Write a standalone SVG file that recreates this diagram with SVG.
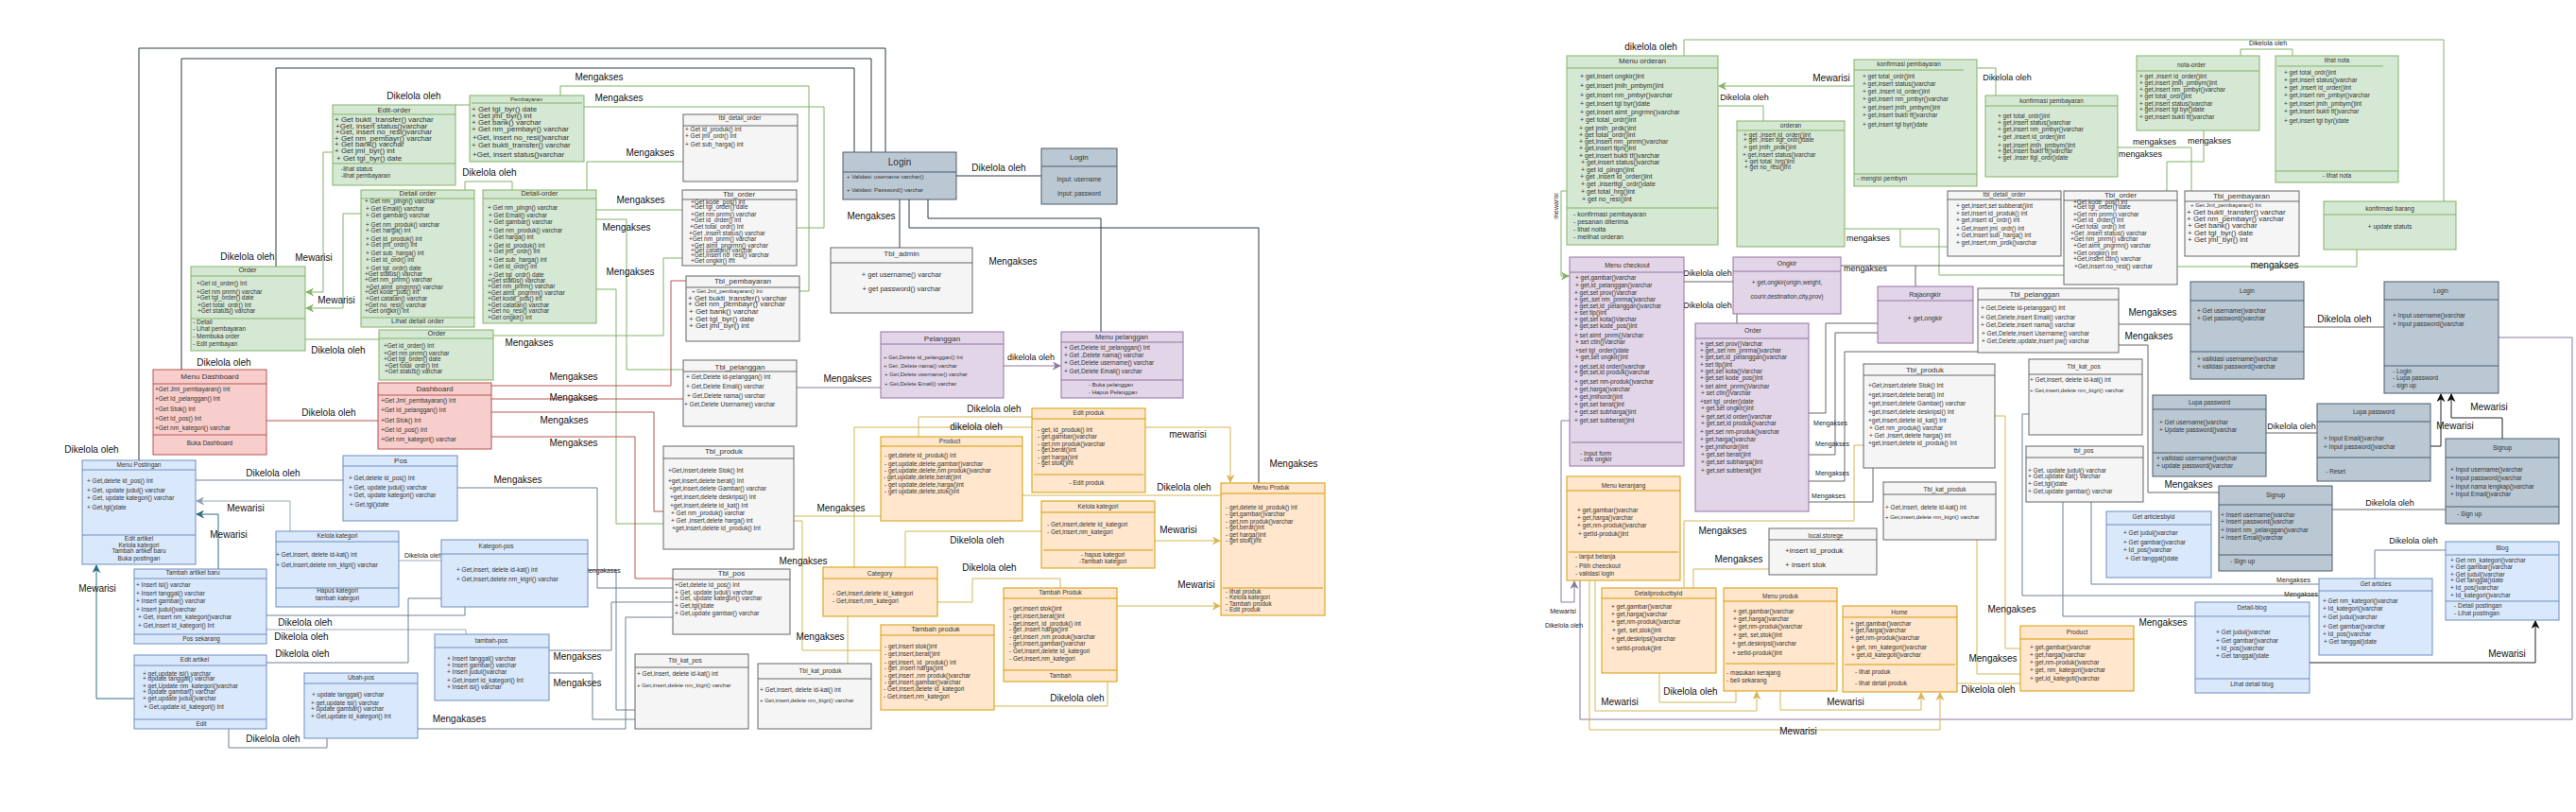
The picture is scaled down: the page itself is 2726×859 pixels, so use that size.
<svg xmlns="http://www.w3.org/2000/svg" width="2726" height="859" viewBox="0 0 2726 859">
<style>
text{font-family:"Liberation Sans",Arial,sans-serif;fill:#333}
.s6{font-size:6px}.s65{font-size:6.5px}.s7{font-size:7px}.s75{font-size:7.5px}.s8{font-size:8px}.s9{font-size:9px}.s10{font-size:10px}
.m{text-anchor:middle}
.L{font-size:10px;fill:#111;text-anchor:middle}
.L9{font-size:9px;fill:#111;text-anchor:middle}
.L7{font-size:7px;fill:#222;text-anchor:middle}
.g{fill:#d5e8d4;stroke:#82b366}.r{fill:#f8cecc;stroke:#b85450}.y{fill:#f5f5f5;stroke:#666}.k{fill:#bac8d3;stroke:#4d5d6b}.p{fill:#e1d5e7;stroke:#9673a6}.b{fill:#dae8fc;stroke:#6c8ebf}.o{fill:#ffe6cc;stroke:#d79b00}
.sg{stroke:#82b366}.sr{stroke:#b85450}.sy{stroke:#666}.sk{stroke:#4d5d6b}.sp{stroke:#9673a6}.sb{stroke:#6c8ebf}.so{stroke:#d79b00}
.c{fill:none;stroke-width:1}
.cn{stroke:#2b3a46}.cg{stroke:#82b366}.cr{stroke:#b85450}.cs{stroke:#6f8192}.ct{stroke:#2d6e80}.co{stroke:#d6b656}.cp{stroke:#8a7a9e}.cy{stroke:#666}.ck{stroke:#222}.cl{stroke:#9aaab8}
</style>
<defs>
<marker id="ag" viewBox="0 0 10 10" refX="9" refY="5" markerWidth="9" markerHeight="9" orient="auto" markerUnits="userSpaceOnUse"><path d="M0 0L10 5L0 10L3 5z" fill="#82b366"/></marker>
<marker id="ao" viewBox="0 0 10 10" refX="9" refY="5" markerWidth="9" markerHeight="9" orient="auto" markerUnits="userSpaceOnUse"><path d="M0 0L10 5L0 10L3 5z" fill="#d6b656"/></marker>
<marker id="ap" viewBox="0 0 10 10" refX="9" refY="5" markerWidth="9" markerHeight="9" orient="auto" markerUnits="userSpaceOnUse"><path d="M0 0L10 5L0 10L3 5z" fill="#8a7a9e"/></marker>
<marker id="ak" viewBox="0 0 10 10" refX="9" refY="5" markerWidth="9" markerHeight="9" orient="auto" markerUnits="userSpaceOnUse"><path d="M0 0L10 5L0 10L3 5z" fill="#111"/></marker>
<marker id="at" viewBox="0 0 10 10" refX="9" refY="5" markerWidth="9" markerHeight="9" orient="auto" markerUnits="userSpaceOnUse"><path d="M0 0L10 5L0 10L3 5z" fill="#2d6e80"/></marker>
<marker id="as" viewBox="0 0 10 10" refX="9" refY="5" markerWidth="9" markerHeight="9" orient="auto" markerUnits="userSpaceOnUse"><path d="M0 0L10 5L0 10L3 5z" fill="#8aa0b4"/></marker>
</defs>
<rect width="2726" height="859" fill="#fff"/>

<g id="connectors">
<!-- left: navy -->
<polyline class="c cn" points="147,487 147,51 937,51 937,161"/>
<polyline class="c cn" points="192,391 192,62 922,62 922,161"/>
<polyline class="c cn" points="292,282 292,72 904,72 904,161"/>
<polyline class="c cn" points="952,211 952,262"/>
<polyline class="c cn" points="962,211 962,241 1332,241 1332,511"/>
<polyline class="c cn" points="982,211 982,231 1165,231 1165,351"/>
<polyline class="c cn" points="1012,186 1102,186"/>
<!-- left: green -->
<polyline class="c cg" points="482,111 497,111"/>
<polyline class="c cg" points="352,161 342,161 342,309 324,309" marker-end="url(#ag)"/>
<polyline class="c cg" points="382,226 363,226 363,326 324,326" marker-end="url(#ag)"/>
<polyline class="c cg" points="492,201 492,192 542,192 542,201"/>
<polyline class="c cg" points="323,359 401,359"/>
<polyline class="c cg" points="593,101 593,91 856,91 856,308 846,308"/>
<polyline class="c cg" points="618,113 872,113 872,241 843,241"/>
<polyline class="c cg" points="621,201 621,171 723,171"/>
<polyline class="c cg" points="631,222 722,222"/>
<polyline class="c cg" points="631,232 663,232 663,391 723,391"/>
<polyline class="c cg" points="631,306 652,306 652,554 702,554"/>
<polyline class="c cg" points="522,355 702,355 702,273 722,273"/>
<!-- left: red -->
<polyline class="c cr" points="282,445 400,445"/>
<polyline class="c cr" points="520,408 710,408 710,297 726,297"/>
<polyline class="c cr" points="520,422 723,422"/>
<polyline class="c cr" points="520,436 692,436 692,541 702,541"/>
<polyline class="c cr" points="520,462 672,462 672,612 712,612"/>
<!-- left: slate -->
<polyline class="c cs" points="207,508 363,508"/>
<polyline class="c cs" points="484,516 632,516 632,622 712,622"/>
<polyline class="c cl" points="307,562 307,530 208,530" marker-end="url(#as)"/>
<polyline class="c ct" points="231,602 231,544 208,544" marker-end="url(#at)"/>
<polyline class="c ct" points="142,739 102,739 102,598" marker-end="url(#at)"/>
<polyline class="c cl" points="422,593 467,593"/>
<polyline class="c cs" points="622,603 652,603 652,751 672,751"/>
<polyline class="c cl" points="282,666 493,666 493,671"/>
<polyline class="c cs" points="282,651 492,651 492,642"/>
<polyline class="c cs" points="282,701 432,701 432,633 467,633"/>
<polyline class="c cs" points="581,688 647,688 647,637 712,637"/>
<polyline class="c cs" points="581,712 627,712 627,761 672,761"/>
<polyline class="c cs" points="242,771 242,791 346,791 346,781"/>
<polyline class="c cs" points="442,771 662,771 662,653 712,653"/>
<!-- left: gold -->
<polyline class="c co" points="972,462 972,441 1092,441"/>
<polyline class="c co" points="904,600 904,452 1092,452"/>
<polyline class="c co" points="1212,452 1302,452 1302,510" marker-end="url(#ao)"/>
<polyline class="c co" points="1082,524 1292,524"/>
<polyline class="c co" points="1222,572 1291,572" marker-end="url(#ao)"/>
<polyline class="c co" points="1182,641 1291,641" marker-end="url(#ao)"/>
<polyline class="c co" points="958,600 958,562 1102,562"/>
<polyline class="c co" points="992,637 1029,637 1029,612 1122,612 1122,622"/>
<polyline class="c co" points="1052,747 1172,747 1172,721"/>
<polyline class="c co" points="840,546 932,546"/>
<polyline class="c co" points="840,551 849,551 849,688 932,688"/>
<polyline class="c co" points="897,702 897,652"/>
<!-- left: purple -->
<polyline class="c cp" points="843,410 932,410"/>
<polyline class="c cp" points="1062,387 1122,387" marker-end="url(#ap)"/>

<!-- right: green -->
<polyline class="c cg" points="1782,59 1782,42 2586,42 2586,213"/>
<polyline class="c cg" points="2371,59 2371,52 2426,52 2426,59"/>
<polyline class="c cg" points="1866,128 1866,112 1818,112"/>
<polyline class="c cg" points="1962,91 1819,91" marker-end="url(#ag)"/>
<polyline class="c cg" points="2092,72 2112,72 2112,101"/>
<polyline class="c cg" points="1658,202 1652,202 1652,292 1660,292" marker-end="url(#ag)"/>
<polyline class="c cg" points="2494,264 2494,282 2304,282"/>
<polyline class="c cg" points="2241,156 2319,156 2319,202"/>
<polyline class="c cg" points="2332,138 2332,171 2293,171 2293,202"/>
<polyline class="c cg" points="1952,242 2052,242 2052,291 2184,291"/>
<polyline class="c cg" points="2011,242 2011,261 2061,261"/>
<!-- right: grey -->
<polyline class="c cy" points="1948,281 2184,281"/>
<polyline class="c cy" points="2027,281 2027,303"/>
<polyline class="c cy" points="1782,298 1834,298"/>
<polyline class="c cy" points="1838,332 1838,342"/>
<polyline class="c cy" points="1914,437 1932,437 1932,342 1987,342"/>
<polyline class="c cy" points="1914,481 1942,481 1942,352 1987,352"/>
<polyline class="c cy" points="1914,509 1952,509 1952,372 2093,372"/>
<polyline class="c cy" points="1914,531 1982,531 1982,495"/>
<polyline class="c cy" points="2242,343 2318,343"/>
<polyline class="c cy" points="2242,365 2273,365 2273,521 2348,521"/>
<polyline class="c cy" points="2438,346 2523,346"/>
<polyline class="c cp" points="2644,357 2722,357 2722,761 1672,761 1672,614"/>
<polyline class="c cy" points="2398,458 2452,458"/>
<polyline class="c ck" points="2572,472 2583,472 2583,417" marker-end="url(#ak)"/>
<polyline class="c ck" points="2648,464 2648,442 2594,442 2594,417" marker-end="url(#ak)"/>
<polyline class="c cy" points="2468,539 2588,539"/>
<polyline class="c cs" points="2147,438 2140,438 2140,630 2454,630"/>
<polyline class="c cs" points="2213,531 2213,618 2454,618"/>
<polyline class="c cs" points="2183,531 2183,652 2323,652"/>
<polyline class="c cs" points="2513,612 2513,582 2588,582"/>
<polyline class="c ck" points="2444,701 2683,701 2683,657" marker-end="url(#ak)"/>
<!-- right: purple -->
<polyline class="c cp" points="1661,445 1652,445 1652,637 1666,637 1666,615" marker-end="url(#ap)"/>
<!-- right: orange -->
<polyline class="c co" points="1782,622 1782,551 1962,551 1962,471 1972,471"/>
<polyline class="c co" points="1792,622 1792,602 1872,602"/>
<polyline class="c co" points="1688,614 1688,752 1859,752 1859,732" marker-end="url(#ao)"/>
<polyline class="c co" points="1682,614 1682,772 2053,772 2053,733" marker-end="url(#ao)"/>
<polyline class="c co" points="1756,712 1756,743 1837,743 1837,731"/>
<polyline class="c co" points="1884,731 1884,751 2033,751 2033,733" marker-end="url(#ao)"/>
<polyline class="c co" points="2071,723 2138,723"/>
<polyline class="c co" points="2111,440 2122,440 2122,686 2138,686"/>
<polyline class="c co" points="2092,571 2092,713 2138,713"/>
</g>

<g id="labels">
<text class="L" x="438" y="105">Dikelola oleh</text>
<text class="L" x="518" y="186">Dikelola oleh</text>
<text class="L" x="262" y="275">Dikelola oleh</text>
<text class="L" x="332" y="276">Mewarisi</text>
<text class="L" x="356" y="321">Mewarisi</text>
<text class="L" x="358" y="374">Dikelola oleh</text>
<text class="L" x="237" y="387">Dikelola oleh</text>
<text class="L" x="348" y="440">Dikelola oleh</text>
<text class="L" x="634" y="85">Mengakses</text>
<text class="L" x="655" y="107">Mengakses</text>
<text class="L" x="688" y="165">Mengakses</text>
<text class="L" x="678" y="215">Mengakses</text>
<text class="L" x="663" y="244">Mengakses</text>
<text class="L" x="667" y="291">Mengakses</text>
<text class="L" x="560" y="366">Mengakses</text>
<text class="L" x="607" y="402">Mengakses</text>
<text class="L" x="607" y="424">Mengakses</text>
<text class="L" x="597" y="448">Mengakses</text>
<text class="L" x="607" y="472">Mengakses</text>
<text class="L" x="922" y="232">Mengakses</text>
<text class="L" x="1057" y="181">Dikelola oleh</text>
<text class="L" x="1072" y="280">Mengakses</text>
<text class="L" x="897" y="404">Mengakses</text>
<text class="L9" x="1091" y="381">dikelola oleh</text>
<text class="L" x="97" y="479">Dikelola oleh</text>
<text class="L" x="289" y="504">Dikelola oleh</text>
<text class="L" x="548" y="511">Mengakses</text>
<text class="L" x="260" y="541">Mewarisi</text>
<text class="L" x="242" y="569">Mewarisi</text>
<text class="L" x="103" y="626">Mewarisi</text>
<text class="L7" x="448" y="590">Dikelola oleh</text>
<text class="L7" x="637" y="606">Mengakases</text>
<text class="L" x="323" y="662">Dikelola oleh</text>
<text class="L" x="319" y="677">Dikelola oleh</text>
<text class="L" x="320" y="695">Dikelola oleh</text>
<text class="L" x="289" y="785">Dikelola oleh</text>
<text class="L" x="486" y="764">Mengakases</text>
<text class="L" x="611" y="698">Mengakses</text>
<text class="L" x="611" y="726">Mengakses</text>
<text class="L" x="890" y="541">Mengakses</text>
<text class="L" x="850" y="597">Mengakses</text>
<text class="L" x="868" y="677">Mengakses</text>
<text class="L" x="1052" y="436">Dikelola oleh</text>
<text class="L" x="1033" y="455">dikelola oleh</text>
<text class="L" x="1257" y="463">mewarisi</text>
<text class="L" x="1253" y="519">Dikelola oleh</text>
<text class="L" x="1369" y="494">Mengakses</text>
<text class="L" x="1034" y="575">Dikelola oleh</text>
<text class="L" x="1247" y="564">Mewarisi</text>
<text class="L" x="1047" y="604">Dikelola oleh</text>
<text class="L" x="1266" y="622">Mewarisi</text>
<text class="L" x="1140" y="742">Dikelola oleh</text>

<text class="L" x="1747" y="53">dikelola oleh</text>
<text class="L" x="1938" y="86">Mewarisi</text>
<text class="L9" x="1846" y="106">Dikelola oleh</text>
<text class="L9" x="2124" y="85">Dikelola oleh</text>
<text class="L7" x="2400" y="48">Dikelola oleh</text>
<text class="L7" x="1649" y="218" transform="rotate(-90 1649 218)">mewarisi</text>
<text class="L9" x="2280" y="153">mengakses</text>
<text class="L9" x="2338" y="152">mengakses</text>
<text class="L9" x="2265" y="166">mengakses</text>
<text class="L9" x="1977" y="255">mengakses</text>
<text class="L9" x="1974" y="287">mengakses</text>
<text class="L" x="2407" y="284">mengakses</text>
<text class="L9" x="1807" y="292">Dikelola oleh</text>
<text class="L9" x="1807" y="326">Dikelola oleh</text>
<text class="L" x="2278" y="334">Mengakses</text>
<text class="L" x="2274" y="359">Mengakses</text>
<text class="L" x="2481" y="341">Dikelola oleh</text>
<text class="L9" x="2425" y="454">Dikelola oleh</text>
<text class="L" x="2598" y="454">Mewarisi</text>
<text class="L" x="2634" y="434">Mewarisi</text>
<text class="L9" x="2529" y="535">Dikelola oleh</text>
<text class="L9" x="2554" y="575">Dikelola oleh</text>
<text class="L" x="2316" y="516">Mengakses</text>
<text class="L7" x="2427" y="616">Mengakses</text>
<text class="L7" x="2435" y="631">Mengakses</text>
<text class="L" x="2653" y="695">Mewarisi</text>
<text class="L" x="2289" y="662">Mengakses</text>
<text class="L" x="2129" y="648">Mengakses</text>
<text class="L" x="2109" y="700">Mengakses</text>
<text class="L" x="2104" y="733">Dikelola oleh</text>
<text class="L7" x="1937" y="450">Mengakses</text>
<text class="L7" x="1939" y="472">Mengakses</text>
<text class="L7" x="1939" y="503">Mengakses</text>
<text class="L7" x="1935" y="527">Mengakses</text>
<text class="L" x="1823" y="565">Mengakses</text>
<text class="L" x="1840" y="595">Mengakses</text>
<text class="L7" x="1654" y="649">Mewarisi</text>
<text class="L7" x="1655" y="664">Dikelola oleh</text>
<text class="L" x="1789" y="735">Dikelola oleh</text>
<text class="L" x="1714" y="746">Mewarisi</text>
<text class="L" x="1953" y="746">Mewarisi</text>
<text class="L" x="1903" y="777">Mewarisi</text>
</g>

<!-- ===== LEFT DIAGRAM NODES ===== -->
<g id="edit-order"><rect class="g" x="352" y="111" width="130" height="85"/><path class="sg" d="M352 121H482M352 173H482"/>
<text class="s8 m" x="417" y="119">Edit-order</text>
<text class="s8"><tspan x="354" y="129">+ Get bukti_transfer() varchar</tspan><tspan x="355" y="136">+Get, insert status()varchar</tspan><tspan x="355" y="142">+Get, insert no_resi()varchar</tspan><tspan x="354" y="149">+ Get nm_pembayr() varchar</tspan><tspan x="354" y="155">+ Get bank() varchar</tspan><tspan x="354" y="162">+ Get jml_byr() int</tspan><tspan x="356" y="170">+ Get tgl_byr() date</tspan></text>
<text class="s65"><tspan x="361" y="181">-lihat status</tspan><tspan x="361" y="188">-lihat pembayaran</tspan></text></g>

<g id="pembayaran"><rect class="g" x="497" y="101" width="121" height="70"/><path class="sg" d="M499 109H616"/>
<text class="s6 m" x="557" y="107">Pembayaran</text>
<text class="s8"><tspan x="499" y="118">+ Get tgl_byr() date</tspan><tspan x="499" y="125">+ Get jml_byr() int</tspan><tspan x="499" y="132">+ Get bank() varchar</tspan><tspan x="499" y="139">+ Get nm_pembayr() varchar</tspan><tspan x="500" y="148">+Get, insert no_resi()varchar</tspan><tspan x="499" y="156">+ Get bukti_transfer() varchar</tspan><tspan x="500" y="166">+Get, insert status()varchar</tspan></text></g>

<g id="detail-order-a"><rect class="g" x="382" y="201" width="120" height="145"/><path class="sg" d="M382 210H502M382 336H502"/>
<text class="s75 m" x="442" y="207">Detail order</text>
<text class="s65"><tspan x="386" y="215">+ Get nm_plngn() varchar</tspan><tspan x="387" y="223">+ Get Email() varchar</tspan><tspan x="387" y="230">+ Get gambar() varchar</tspan><tspan x="387" y="240">+ Get nm_produk() varchar</tspan><tspan x="387" y="246">+ Get harga() int</tspan><tspan x="387" y="255">+ Get id_produk() int</tspan><tspan x="387" y="261">+ Get jml_ordr() int</tspan><tspan x="387" y="270">+ Get sub_harga() int</tspan><tspan x="387" y="277">+ Get id_ordr() int</tspan><tspan x="387" y="286">+ Get tgl_ordr() date</tspan><tspan x="386" y="292">+Get  status() varchar</tspan><tspan x="386" y="298">+Get  nm_pnrm() varchar</tspan><tspan x="387" y="306">+Get  almt_pngrmn() varchar</tspan><tspan x="386" y="311">+Get  kode_pos() int</tspan><tspan x="387" y="318">+Get  catatan() varchar</tspan><tspan x="386" y="325">+Get  no_resi() varchar</tspan><tspan x="386" y="331">+Get  ongkir() int</tspan></text>
<text class="s75 m" x="442" y="342">Lihat detail order</text></g>

<g id="detail-order-b"><rect class="g" x="511" y="201" width="120" height="141"/><path class="sg" d="M511 210H631"/>
<text class="s75 m" x="571" y="207">Detail-order</text>
<text class="s65"><tspan x="516" y="222">+ Get nm_plngn() varchar</tspan><tspan x="517" y="230">+ Get Email() varchar</tspan><tspan x="517" y="237">+ Get gambar() varchar</tspan><tspan x="517" y="246">+ Get nm_produk() varchar</tspan><tspan x="517" y="253">+ Get harga() int</tspan><tspan x="517" y="262">+ Get id_produk() int</tspan><tspan x="517" y="268">+ Get jml_ordr() int</tspan><tspan x="517" y="277">+ Get sub_harga() int</tspan><tspan x="517" y="284">+ Get id_ordr() int</tspan><tspan x="517" y="293">+ Get tgl_ordr() date</tspan><tspan x="516" y="299">+Get  status() varchar</tspan><tspan x="516" y="305">+Get  nm_pnrm() varchar</tspan><tspan x="516" y="312">+Get  almt_pngrmn() varchar</tspan><tspan x="516" y="318">+Get  kode_pos() int</tspan><tspan x="516" y="325">+Get  catatan() varchar</tspan><tspan x="516" y="331">+Get  no_resi() varchar</tspan><tspan x="516" y="338">+Get  ongkir() int</tspan></text></g>

<g id="order-a"><rect class="g" x="202" y="282" width="121" height="89"/><path class="sg" d="M202 292H323M202 337H323"/>
<text class="s75 m" x="262" y="288">Order</text>
<text class="s65"><tspan x="208" y="302">+Get  id_order() Int</tspan><tspan x="208" y="311">+Get  nm pnrm() varchar</tspan><tspan x="208" y="317">+Get  tgl_order() date</tspan><tspan x="209" y="325">+Get  total_ordr() Int</tspan><tspan x="209" y="331">+Get  status() varchar</tspan></text>
<text class="s65"><tspan x="204" y="343">- Detail</tspan><tspan x="204" y="350">- Lihat pembayaran</tspan><tspan x="204" y="358">- Membuka order</tspan><tspan x="204" y="366">- Edit pembayan</tspan></text></g>

<g id="order-b"><rect class="g" x="401" y="349" width="121" height="53"/><path class="sg" d="M401 358H522"/>
<text class="s75 m" x="462" y="355">Order</text>
<text class="s65"><tspan x="406" y="368">+Get  id_order() Int</tspan><tspan x="406" y="376">+Get  nm pnrm() varchar</tspan><tspan x="406" y="382">+Get  tgl_order() date</tspan><tspan x="407" y="389">+Get  total_ordr() Int</tspan><tspan x="407" y="395">+Get  status() varchar</tspan></text></g>

<g id="menu-dashboard"><rect class="r" x="162" y="391" width="120" height="90"/><path class="sr" d="M162 406H282M162 460H282"/>
<text class="s8 m" x="222" y="401">Menu Dashboard</text>
<text class="s65"><tspan x="164" y="414">+Get  Jml_pembayaran() Int</tspan><tspan x="164" y="424">+Get Id_pelanggan() Int</tspan><tspan x="164" y="435">+Get Stok() Int</tspan><tspan x="164" y="445">+Get Id_pos() Int</tspan><tspan x="164" y="455">+Get nm_kategori() varchar</tspan></text>
<text class="s65 m" x="222" y="471">Buka Dashboard</text></g>

<g id="dashboard"><rect class="r" x="400" y="405" width="120" height="70"/><path class="sr" d="M400 418H520"/>
<text class="s8 m" x="460" y="414">Dashboard</text>
<text class="s65"><tspan x="403" y="426">+Get  Jml_pembayaran() Int</tspan><tspan x="403" y="436">+Get Id_pelanggan() Int</tspan><tspan x="403" y="447">+Get Stok() Int</tspan><tspan x="403" y="457">+Get Id_pos() Int</tspan><tspan x="403" y="467">+Get nm_kategori() varchar</tspan></text></g>

<g id="tbl-detail-order-l"><rect class="y" x="723" y="121" width="121" height="71"/><path class="sy" d="M723 133H844"/>
<text class="s65 m" x="783" y="127">tbl_detail_order</text>
<text class="s65"><tspan x="725" y="139">+ Get id_produk() int</tspan><tspan x="725" y="146">+ Get jml_ordr() int</tspan><tspan x="725" y="155">+ Get sub_harga() int</tspan></text></g>

<g id="tbl-order-l"><rect class="y" x="722" y="201" width="121" height="80"/><path class="sy" d="M722 211H843"/>
<text class="s8 m" x="782" y="208">Tbl_order</text>
<text class="s65"><tspan x="731" y="216">+Get  kode_pos() int</tspan><tspan x="731" y="221">+Get  tgl_order() date</tspan><tspan x="731" y="229">+Get  nm pnrm() varchar</tspan><tspan x="731" y="235">+Get  id_order() Int</tspan><tspan x="730" y="242">+Get  total_ordr() Int</tspan><tspan x="729" y="249">+Get ,insert status() varchar</tspan><tspan x="729" y="255">+Get  nm_pnrm() varchar</tspan><tspan x="731" y="262">+Get  almt_pngrmn() varchar</tspan><tspan x="731" y="267">+Get  catatan() varchar</tspan><tspan x="731" y="272">+Get,insert  no_resi() varchar</tspan><tspan x="731" y="278">+Get  ongkir() int</tspan></text></g>

<g id="tbl-pembayaran-l"><rect class="y" x="726" y="292" width="120" height="69"/><path class="sy" d="M726 304H846"/>
<text class="s8 m" x="786" y="300">Tbl_pembayaran</text>
<text class="s6" x="732" y="310">+ Get  Jml_pembayaran() Int</text>
<text class="s8"><tspan x="728" y="318">+ Get bukti_transfer() varchar</tspan><tspan x="728" y="324">+ Get nm_pembayr() varchar</tspan><tspan x="729" y="332">+ Get bank() varchar</tspan><tspan x="729" y="340">+ Get tgl_byr() date</tspan><tspan x="729" y="347">+ Get jml_byr() int</tspan></text></g>

<g id="tbl-pelanggan-l"><rect class="y" x="723" y="381" width="120" height="70"/><path class="sy" d="M723 393H843"/>
<text class="s8 m" x="783" y="391">Tbl_pelanggan</text>
<text class="s65"><tspan x="726" y="401">+ Get,Delete  id-pelanggan() Int</tspan><tspan x="726" y="411">+ Get,Delete  Email() varchar</tspan><tspan x="727" y="421">+ Get,Delete  nama() varchar</tspan><tspan x="724" y="430">+ Get,Delete Username() varchar</tspan></text></g>

<g id="tbl-admin"><rect class="y" x="879" y="262" width="150" height="69"/><path class="sy" d="M879 278H1029"/>
<text class="s8 m" x="954" y="271">Tbl_admin</text>
<text class="s75 m"><tspan x="954" y="293">+ get username() varchar</tspan><tspan x="954" y="308">+ get password() varchar</tspan></text></g>

<g id="login-l"><rect class="k" x="892" y="161" width="120" height="50"/><path class="sk" d="M892 182H1012"/>
<text class="s10 m" x="952" y="175">Login</text>
<text class="s6"><tspan x="896" y="189">+ Validasi: username varchar()</tspan><tspan x="896" y="203">+ Validasi: Password() varchar</tspan></text></g>

<g id="login-l2"><rect class="k" x="1102" y="157" width="80" height="59"/><path class="sk" d="M1102 176H1182"/>
<text class="s8 m" x="1142" y="169">Login</text>
<text class="s65 m"><tspan x="1142" y="192">Input: username</tspan><tspan x="1142" y="207">Input: password</tspan></text></g>

<g id="pelanggan"><rect class="p" x="932" y="351" width="130" height="70"/><path class="sp" d="M932 364H1062"/>
<text class="s8 m" x="997" y="361">Pelanggan</text>
<text class="s6"><tspan x="935" y="380">+ Get,Delete  id_pelanggan() Int</tspan><tspan x="935" y="389">+ Get ,Delete nama()  varchar</tspan><tspan x="936" y="398">+ Get,Delete  username()  varchar</tspan><tspan x="936" y="408">+ Get,Delete  Email() varchar</tspan></text></g>

<g id="menu-pelanggan"><rect class="p" x="1123" y="351" width="129" height="70"/><path class="sp" d="M1123 362H1252M1123 402H1252"/>
<text class="s75 m" x="1187" y="359">Menu pelanggan</text>
<text class="s65"><tspan x="1126" y="370">+ Get,Delete  id_pelanggan() Int</tspan><tspan x="1126" y="378">+ Get ,Delete nama()  varchar</tspan><tspan x="1126" y="386">+ Get,Delete  username()  varchar</tspan><tspan x="1126" y="395">+ Get,Delete  Email() varchar</tspan></text>
<text class="s6"><tspan x="1152" y="409">- Buka pelanggan</tspan><tspan x="1152" y="417">- Hapus Pelanggan</tspan></text></g>

<g id="menu-postingan"><rect class="b" x="87" y="487" width="120" height="110"/><path class="sb" d="M87 497H207M87 566H207"/>
<text class="s65 m" x="147" y="494">Menu Postingan</text>
<text class="s65"><tspan x="92" y="511">+ Get,delete id_pos() Int</tspan><tspan x="92" y="521">+ Get, update judul() varchar</tspan><tspan x="92" y="529">+ Get, update kategori() varchar</tspan><tspan x="92" y="539">+ Get,tgl()date</tspan></text>
<text class="s65 m"><tspan x="147" y="572">Edit artikel</tspan><tspan x="147" y="579">Kelola kategori</tspan><tspan x="147" y="585">Tambah artikel baru</tspan><tspan x="147" y="593">Buka postingan</tspan></text></g>

<g id="pos"><rect class="b" x="363" y="482" width="121" height="69"/><path class="sb" d="M363 493H484"/>
<text class="s8 m" x="424" y="490">Pos</text>
<text class="s65"><tspan x="369" y="508">+ Get,delete id_pos() Int</tspan><tspan x="369" y="518">+ Get, update judul() varchar</tspan><tspan x="369" y="526">+ Get, update kategori() varchar</tspan><tspan x="370" y="536">+ Get,tgl()date</tspan></text></g>

<g id="kelola-kategori-b"><rect class="b" x="292" y="562" width="130" height="80"/><path class="sb" d="M292 573H422M292 622H422"/>
<text class="s65 m" x="357" y="569">Kelola kategori</text>
<text class="s65"><tspan x="292" y="589">+ Get,insert, delete id-kat() int</tspan><tspan x="292" y="600">+ Get,insert,delete nm_ktgri() varchar</tspan></text>
<text class="s65 m"><tspan x="357" y="627">Hapus kategori</tspan><tspan x="357" y="635">tambah kategori</tspan></text></g>

<g id="tambah-artikel"><rect class="b" x="142" y="602" width="140" height="79"/><path class="sb" d="M142 612H282M142 671H282"/>
<text class="s65 m" x="204" y="608">Tambah artikel baru</text>
<text class="s65"><tspan x="144" y="621">+ Insert isi() varchar</tspan><tspan x="144" y="630">+ Insert tanggal() varchar</tspan><tspan x="144" y="638">+ Insert gambar() varchar</tspan><tspan x="144" y="647">+ Insert judul()varchar</tspan><tspan x="146" y="655">+ Get, insert nm_kategori()varchar</tspan><tspan x="146" y="664">+ Get,insert id_kategori() Int</tspan></text>
<text class="s65 m" x="213" y="678">Pos sekarang</text></g>

<g id="edit-artikel"><rect class="b" x="142" y="693" width="140" height="78"/><path class="sb" d="M142 704H282M142 761H282"/>
<text class="s65 m" x="206" y="700">Edit artikel</text>
<text class="s65"><tspan x="151" y="715">+ get,update isi() varchar</tspan><tspan x="151" y="720">+ update tanggal() varchar</tspan><tspan x="151" y="728">+ get,Update nm_kategori()varchar</tspan><tspan x="151" y="734">+ update gambar() varchar</tspan><tspan x="151" y="741">+ get,update judul()varchar</tspan><tspan x="152" y="750">+ Get,update id_kategori() Int</tspan></text>
<text class="s65 m" x="213" y="768">Edit</text></g>

<g id="kategori-pos"><rect class="b" x="467" y="571" width="155" height="71"/><path class="sb" d="M467 586H622"/>
<text class="s65 m" x="525" y="580">Kategori-pos</text>
<text class="s65"><tspan x="483" y="605">+ Get,insert, delete id-kat() int</tspan><tspan x="483" y="615">+ Get,insert,delete nm_ktgri() varchar</tspan></text></g>

<g id="tambah-pos"><rect class="b" x="460" y="671" width="121" height="70"/><path class="sb" d="M460 685H581"/>
<text class="s65 m" x="520" y="680">tambah-pos</text>
<text class="s65"><tspan x="473" y="699">+ Insert tanggal() varchar</tspan><tspan x="473" y="706">+ Insert gambar() varchar</tspan><tspan x="473" y="713">+ Insert judul()varchar</tspan><tspan x="473" y="722">+ Get,insert id_kategori() Int</tspan><tspan x="473" y="729">+ Insert isi() varchar</tspan></text></g>

<g id="ubah-pos"><rect class="b" x="322" y="712" width="120" height="69"/><path class="sb" d="M322 723H442"/>
<text class="s65 m" x="382" y="719">Ubah-pos</text>
<text class="s65"><tspan x="330" y="737">+ update tanggal() varchar</tspan><tspan x="329" y="746">+ get,update isi() varchar</tspan><tspan x="329" y="752">+ update gambar() varchar</tspan><tspan x="329" y="760">+ Get,update id_kategori() Int</tspan></text></g>

<g id="tbl-pos-l"><rect class="y" x="712" y="602" width="124" height="69"/><path class="sy" d="M712 613H836"/>
<text class="s8 m" x="774" y="609">Tbl_pos</text>
<text class="s65"><tspan x="714" y="621">+Get,delete Id_pos() Int</tspan><tspan x="714" y="629">+ Get, update judul() varchar</tspan><tspan x="714" y="635">+ Get, update kategori() varchar</tspan><tspan x="714" y="643">+ Get,tgl()date</tspan><tspan x="714" y="651">+ Get,update gambar() varchar</tspan></text></g>

<g id="tbl-kat-pos-l"><rect class="y" x="672" y="692" width="120" height="79"/><path class="sy" d="M672 706H792"/>
<text class="s65 m" x="725" y="701">Tbl_kat_pos</text>
<text class="s65" x="674" y="715">+ Get,insert, delete id-kat() int</text>
<text class="s6" x="674" y="727">+ Get,insert,delete nm_ktgri() varchar</text></g>

<g id="tbl-kat-produk-l"><rect class="y" x="802" y="702" width="120" height="69"/><path class="sy" d="M802 718H922"/>
<text class="s65 m" x="868" y="712">Tbl_kat_produk</text>
<text class="s65" x="804" y="732">+ Get,insert, delete id-kat() int</text>
<text class="s6" x="804" y="743">+ Get,insert,delete nm_ktgri() varchar</text></g>

<g id="tbl-produk-l"><rect class="y" x="702" y="472" width="138" height="109"/><path class="sy" d="M702 485H840"/>
<text class="s8 m" x="766" y="480">Tbl_produk</text>
<text class="s65"><tspan x="707" y="500">+Get,insert,delete Stok() Int</tspan><tspan x="707" y="511">+get,insert,delete berat() Int</tspan><tspan x="708" y="519">+get,insert,delete Gambar() varchar</tspan><tspan x="709" y="528">+get,insert,delete deskripsi() Int</tspan><tspan x="709" y="537">+get,insert,delete id_kat() Int</tspan><tspan x="710" y="545">+ Get nm_produk() varchar</tspan><tspan x="710" y="553">+ Get ,insert,delete harga() int</tspan><tspan x="711" y="561">+get,insert,delete id_produk() Int</tspan></text></g>

<g id="product-l"><rect class="o" x="932" y="462" width="150" height="89"/><path class="so" d="M932 472H1082"/>
<text class="s65 m" x="1005" y="469">Product</text>
<text class="s65"><tspan x="936" y="484">- get,delete id_produk() int</tspan><tspan x="936" y="493">- get,update,delete,gambar()varchar</tspan><tspan x="936" y="500">- get,update,delete,nm produk()varchar</tspan><tspan x="935" y="507">- get,update,delete,berat()int</tspan><tspan x="936" y="515">- get update,delete,harga()int</tspan><tspan x="936" y="522">- get update,delete,stok()int</tspan></text></g>

<g id="edit-produk"><rect class="o" x="1092" y="432" width="120" height="89"/><path class="so" d="M1092 443H1212M1094 502H1210"/>
<text class="s65 m" x="1152" y="439">Edit produk</text>
<text class="s65"><tspan x="1098" y="457">- get, id_produk() int</tspan><tspan x="1098" y="464">- get,gambar()varchar</tspan><tspan x="1098" y="472">- get,nm produk()varchar</tspan><tspan x="1098" y="478">- get,berat()int</tspan><tspan x="1098" y="486">- get harga()int</tspan><tspan x="1098" y="492">- get stok()int</tspan></text>
<text class="s65 m" x="1150" y="513">- Edit produk</text></g>

<g id="category-l"><rect class="o" x="871" y="600" width="121" height="52"/><path class="so" d="M871 612H992"/>
<text class="s65 m" x="931" y="609">Category</text>
<text class="s65"><tspan x="881" y="630">- Get,insert,delete id_kategori</tspan><tspan x="881" y="638">- Get,insert,nm_kategori</tspan></text></g>

<g id="kelola-kategori-o"><rect class="o" x="1102" y="530" width="120" height="71"/><path class="so" d="M1102 542H1222M1104 582H1220"/>
<text class="s65 m" x="1162" y="538">Kelola kategori</text>
<text class="s65"><tspan x="1108" y="557">- Get,insert,delete id_kategori</tspan><tspan x="1108" y="565">- Get,insert,nm_kategori</tspan></text>
<text class="s65 m"><tspan x="1167" y="589">- hapus kategori</tspan><tspan x="1167" y="596">-Tambah kategori</tspan></text></g>

<g id="tambah-produk-b"><rect class="o" x="1062" y="622" width="120" height="99"/><path class="so" d="M1062 633H1182M1062 709H1182"/>
<text class="s65 m" x="1122" y="629">Tambah Produk</text>
<text class="s65"><tspan x="1068" y="646">- get,insert stok()int</tspan><tspan x="1068" y="654">- get,insert,berat()int</tspan><tspan x="1068" y="662">- get,insert, id_produk() int</tspan><tspan x="1068" y="668">- get ,insert harga()int</tspan><tspan x="1068" y="676">- get,insert ,nm produk()varchar</tspan><tspan x="1068" y="683">- get,insert,gambar()varchar</tspan><tspan x="1068" y="691">- Get,insert,delete id_kategori</tspan><tspan x="1068" y="699">- Get,insert,nm_kategori</tspan></text>
<text class="s65 m" x="1122" y="717">Tambah</text></g>

<g id="tambah-produk-a"><rect class="o" x="932" y="661" width="120" height="90"/><path class="so" d="M932 672H1052"/>
<text class="s75 m" x="990" y="668">Tambah produk</text>
<text class="s65"><tspan x="936" y="686">- get,insert stok()int</tspan><tspan x="936" y="694">- get,insert,berat()int</tspan><tspan x="936" y="703">- get,insert, id_produk() int</tspan><tspan x="936" y="709">- get ,insert harga()int</tspan><tspan x="936" y="717">- get,insert ,nm produk()varchar</tspan><tspan x="936" y="724">- get,insert,gambar()varchar</tspan><tspan x="935" y="731">- Get,insert,delete id_kategori</tspan><tspan x="935" y="739">- Get,insert,nm_kategori</tspan></text></g>

<g id="menu-produk-l"><rect class="o" x="1292" y="511" width="110" height="140"/><path class="so" d="M1292 522H1402M1294 622H1400"/>
<text class="s65 m" x="1345" y="518">Menu Produk</text>
<text class="s65"><tspan x="1297" y="539">- get,delete id_produk() int</tspan><tspan x="1297" y="546">- get,gambar()varchar</tspan><tspan x="1297" y="554">- get,nm produk()varchar</tspan><tspan x="1297" y="560">- get,berat()int</tspan><tspan x="1297" y="568">- get harga()int</tspan><tspan x="1297" y="574">- get stok()int</tspan></text>
<text class="s65"><tspan x="1297" y="628">- lihat produk</tspan><tspan x="1297" y="634">- Kelola kategori</tspan><tspan x="1297" y="641">- Tambah produk</tspan><tspan x="1297" y="647">- Edit produk</tspan></text></g>

<!-- ===== RIGHT DIAGRAM NODES ===== -->
<g id="menu-orderan"><rect class="g" x="1658" y="59" width="160" height="200"/><path class="sg" d="M1658 72H1818M1658 220H1818"/>
<text class="s8 m" x="1738" y="67">Menu orderan</text>
<text class="s7"><tspan x="1672" y="83">+ get,insert ongkir()lnt</tspan><tspan x="1672" y="93">+ get,insert jmlh_pmbym()lnt</tspan><tspan x="1672" y="103">+ get,insert nm_pmbyr()varchar</tspan><tspan x="1672" y="112">+ get,insert tgl byr()date</tspan><tspan x="1672" y="121">+ get,insert almt_pngrmn()varchar</tspan><tspan x="1672" y="129">+ get total_ordr()lnt</tspan><tspan x="1671" y="138">+ get jmlh_prdk()lnt</tspan><tspan x="1671" y="145">+ get total_ordr()lnt</tspan><tspan x="1671" y="152">+ get,insert nm_pnrm()varchar</tspan><tspan x="1671" y="159">+ get,insert tlpn()lnt</tspan><tspan x="1671" y="167">+ get,insert bukti tf()varchar</tspan><tspan x="1673" y="174">+ get,insert status()varchar</tspan><tspan x="1673" y="182">+ get id_plngn()lnt</tspan><tspan x="1672" y="189">+ get ,insert id_order()lnt</tspan><tspan x="1673" y="197">+ get ,inserttgl_ordr()date</tspan><tspan x="1673" y="205">+ get total_hrg()lnt</tspan><tspan x="1674" y="213">+ get no_resi()lnt</tspan></text>
<text class="s7"><tspan x="1665" y="229">- konfirmasi pembayaran</tspan><tspan x="1665" y="237">- pesanan diterima</tspan><tspan x="1665" y="245">- lihat noita</tspan><tspan x="1665" y="253">- melihat orderan</tspan></text></g>

<g id="orderan"><rect class="g" x="1838" y="128" width="114" height="133"/><path class="sg" d="M1838 138H1952"/>
<text class="s65 m" x="1895" y="135">orderan</text>
<text class="s65"><tspan x="1845" y="145">+ get ,insert id_order()lnt</tspan><tspan x="1845" y="150">+ get ,inser tlgl_ordr()date</tspan><tspan x="1845" y="158">+ get jmlh_prdk()lnt</tspan><tspan x="1844" y="166">+ get,insert status()varchar</tspan><tspan x="1846" y="173">+ get total_hrg()lnt</tspan><tspan x="1846" y="179">+ get no_resi()lnt</tspan></text></g>

<g id="konfirmasi-1"><rect class="g" x="1962" y="63" width="130" height="134"/><path class="sg" d="M1962 74H2078M1962 184H2092"/>
<text class="s65 m" x="2020" y="70">konfirmasi pembayaran</text>
<text class="s65"><tspan x="1971" y="83">+ get total_ordr()lnt</tspan><tspan x="1971" y="91">+ get,insert status()varchar</tspan><tspan x="1971" y="99">+ get ,insert id_order()lnt</tspan><tspan x="1971" y="107">+ get,insert nm_pmbyr()varchar</tspan><tspan x="1971" y="116">+ get,insert jmlh_pmbym()lnt</tspan><tspan x="1971" y="124">+ get,insert bukti tf()varchar</tspan><tspan x="1971" y="134">+ get,insert tgl byr()date</tspan></text>
<text class="s65" x="1965" y="191">- mengisi pembym</text></g>

<g id="konfirmasi-2"><rect class="g" x="2101" y="101" width="140" height="86"/><path class="sg" d="M2101 112H2241"/>
<text class="s65 m" x="2171" y="109">konfirmasi pembayaran</text>
<text class="s65"><tspan x="2114" y="125">+ get total_ordr()lnt</tspan><tspan x="2114" y="132">+ get,insert status()varchar</tspan><tspan x="2114" y="139">+ get,insert nm_pmbyr()varchar</tspan><tspan x="2114" y="147">+ get ,insert id_order()lnt</tspan><tspan x="2114" y="156">+ get,insert jmlh_pmbym()lnt</tspan><tspan x="2114" y="162">+ get,insert bukti tf()varchar</tspan><tspan x="2114" y="169">+ get ,inser tlgl_ordr()date</tspan></text></g>

<g id="nota-order"><rect class="g" x="2261" y="59" width="130" height="79"/><path class="sg" d="M2261 75H2391"/>
<text class="s65 m" x="2319" y="71">nota-order</text>
<text class="s65"><tspan x="2264" y="83">+ get ,insert id_order()lnt</tspan><tspan x="2264" y="90">+ get,insert jmlh_pmbym()lnt</tspan><tspan x="2264" y="97">+ get,insert nm_pmbyr()varchar</tspan><tspan x="2264" y="104">+ get total_ordr()lnt</tspan><tspan x="2264" y="112">+ get,insert status()varchar</tspan><tspan x="2264" y="118">+ get,insert tgl byr()date</tspan><tspan x="2264" y="126">+ get,insert bukti tf()varchar</tspan></text></g>

<g id="lihat-nota"><rect class="g" x="2408" y="59" width="130" height="134"/><path class="sg" d="M2410 70H2522M2408 181H2538"/>
<text class="s65 m" x="2473" y="66">lihat nota</text>
<text class="s65"><tspan x="2417" y="79">+ get total_ordr()lnt</tspan><tspan x="2417" y="87">+ get,insert status()varchar</tspan><tspan x="2417" y="95">+ get ,insert id_order()lnt</tspan><tspan x="2417" y="103">+ get,insert nm_pmbyr()varchar</tspan><tspan x="2417" y="112">+ get,insert jmlh_pmbym()lnt</tspan><tspan x="2417" y="120">+ get,insert bukti tf()varchar</tspan><tspan x="2417" y="130">+ get,insert tgl byr()date</tspan></text>
<text class="s65 m" x="2473" y="188">- lihat nota</text></g>

<g id="konfirmasi-barang"><rect class="g" x="2459" y="213" width="140" height="51"/><path class="sg" d="M2459 227H2599"/>
<text class="s65 m" x="2529" y="223">konfirmasi barang</text>
<text class="s65 m" x="2529" y="242">+ update statuts</text></g>

<g id="tbl-detail-order-r"><rect class="y" x="2061" y="202" width="120" height="69"/><path class="sy" d="M2061 211H2181"/>
<text class="s65 m" x="2121" y="208">tbl_detail_order</text>
<text class="s65"><tspan x="2070" y="220">+ get,insert,set subberat()lnt</tspan><tspan x="2070" y="228">+ set,insert id_produk() int</tspan><tspan x="2070" y="235">+ get,insert id_ordr() int</tspan><tspan x="2070" y="244">+ Get,insert jml_ordr() int</tspan><tspan x="2070" y="251">+ Get,insert sub_harga() int</tspan><tspan x="2070" y="259">+ get,insert,nm_prdk()varchar</tspan></text></g>

<g id="tbl-order-r"><rect class="y" x="2184" y="202" width="120" height="99"/><path class="sy" d="M2184 212H2304"/>
<text class="s8 m" x="2244" y="209">Tbl_order</text>
<text class="s65"><tspan x="2194" y="216">+Get  kode_pos() int</tspan><tspan x="2194" y="221">+Get  tgl_order() date</tspan><tspan x="2194" y="229">+Get  nm pnrm() varchar</tspan><tspan x="2194" y="235">+Get  id_order() Int</tspan><tspan x="2192" y="242">+Get  total_ordr() Int</tspan><tspan x="2191" y="249">+Get ,insert status() varchar</tspan><tspan x="2191" y="255">+Get  nm_pnrm() varchar</tspan><tspan x="2194" y="262">+Get  almt_pngrmn() varchar</tspan><tspan x="2194" y="270">+Get  ongkir() int</tspan><tspan x="2194" y="276">+Get,insert  ctln() varchar</tspan><tspan x="2195" y="284">+Get,insert  no_resi() varchar</tspan></text></g>

<g id="tbl-pembayaran-r"><rect class="y" x="2312" y="202" width="121" height="69"/><path class="sy" d="M2312 213H2433"/>
<text class="s8 m" x="2372" y="210">Tbl_pembayaran</text>
<text class="s6" x="2318" y="219">+ Get  Jml_pembayaran() Int</text>
<text class="s8"><tspan x="2314" y="227">+ Get bukti_transfer() varchar</tspan><tspan x="2314" y="234">+ Get nm_pembayr() varchar</tspan><tspan x="2315" y="241">+ Get bank() varchar</tspan><tspan x="2315" y="249">+ Get tgl_byr() date</tspan><tspan x="2315" y="256">+ Get jml_byr() int</tspan></text></g>

<g id="ongkir"><rect class="p" x="1834" y="272" width="114" height="60"/><path class="sp" d="M1834 287H1948"/>
<text class="s7 m" x="1891" y="281">Ongkir</text>
<text class="s65 m"><tspan x="1891" y="301">+ get,ongkir(origin,weight,</tspan><tspan x="1891" y="316">courir,destination,city,prov)</tspan></text></g>

<g id="menu-checkout"><rect class="p" x="1661" y="272" width="121" height="221"/><path class="sp" d="M1661 288H1782M1663 468H1780"/>
<text class="s7 m" x="1722" y="283">Menu checkout</text>
<text class="s65"><tspan x="1667" y="296">+ get,gambar()varchar</tspan><tspan x="1667" y="304">+ get,id_pelanggan()varchar</tspan><tspan x="1666" y="312">+ get,set prov()Varchar</tspan><tspan x="1666" y="319">+ get,,set nm_pnrma()varchar</tspan><tspan x="1666" y="326">+ get,set,id_pelanggan()varchar</tspan><tspan x="1666" y="333">+ set tlp()lnt</tspan><tspan x="1666" y="340">+ get,set kota()Varchar</tspan><tspan x="1666" y="347">+ get,set kode_pos()lnt</tspan><tspan x="1666" y="357">+ set almt_pnrm()Varchar</tspan><tspan x="1667" y="364">+ set ctln()Varchar</tspan><tspan x="1667" y="373">+set tgl_order()date</tspan><tspan x="1667" y="380">+ get,set ongkir()lnt</tspan><tspan x="1666" y="390">+ get,set,id order()varchar</tspan><tspan x="1666" y="396">+ get,set,id produk()varchar</tspan><tspan x="1666" y="406">+ get,set nm-produk()varchar</tspan><tspan x="1666" y="414">+ get,harga()varchar</tspan><tspan x="1666" y="422">+ get,jmlhordr()lnt</tspan><tspan x="1666" y="430">+ get,set berat()lnt</tspan><tspan x="1666" y="438">+ get,set subharga()lnt</tspan><tspan x="1666" y="447">+ get,set subberat()lnt</tspan></text>
<text class="s65"><tspan x="1672" y="482">- Input form</tspan><tspan x="1672" y="488">- cek ongkir</tspan></text></g>

<g id="order-r"><rect class="p" x="1794" y="342" width="120" height="199"/><path class="sp" d="M1794 358H1914"/>
<text class="s7 m" x="1855" y="352">Order</text>
<text class="s65"><tspan x="1799" y="366">+ get,set prov()Varchar</tspan><tspan x="1799" y="373">+ get,,set nm_pnrma()varchar</tspan><tspan x="1799" y="380">+ get,set,id_pelanggan()varchar</tspan><tspan x="1799" y="388">+ set tlp()lnt</tspan><tspan x="1799" y="395">+ get,set kota()Varchar</tspan><tspan x="1799" y="402">+ get,set kode_pos()lnt</tspan><tspan x="1799" y="411">+ set almt_pnrm()Varchar</tspan><tspan x="1800" y="418">+ set ctln()Varchar</tspan><tspan x="1799" y="427">+set tgl_order()date</tspan><tspan x="1800" y="434">+ get,set ongkir()lnt</tspan><tspan x="1800" y="443">+ get,set,id order()varchar</tspan><tspan x="1800" y="450">+ get,set,id produk()varchar</tspan><tspan x="1799" y="459">+ get,set nm-produk()varchar</tspan><tspan x="1799" y="467">+ get,harga()varchar</tspan><tspan x="1799" y="475">+ get,jmlhordr()lnt</tspan><tspan x="1800" y="483">+ get,set berat()lnt</tspan><tspan x="1800" y="491">+ get,set subharga()lnt</tspan><tspan x="1800" y="500">+ get,set subberat()lnt</tspan></text></g>

<g id="rajaongkir"><rect class="p" x="1987" y="303" width="101" height="60"/><path class="sp" d="M1987 318H2088"/>
<text class="s7 m" x="2037" y="314">Rajaongkir</text>
<text class="s7 m" x="2037" y="339">+ get,ongkir</text></g>

<g id="tbl-pelanggan-r"><rect class="y" x="2093" y="305" width="149" height="68"/><path class="sy" d="M2093 317H2242"/>
<text class="s8 m" x="2153" y="314">Tbl_pelanggan</text>
<text class="s65"><tspan x="2096" y="328">+ Get,Delete  id-pelanggan() Int</tspan><tspan x="2096" y="338">+ Get,Delete,insert  Email() varchar</tspan><tspan x="2096" y="346">+ Get,Delete,insert  nama() varchar</tspan><tspan x="2097" y="355">+ Get,Delete,insert Username() varchar</tspan><tspan x="2097" y="363">+ Get,Delete,update,insert pw() varchar</tspan></text></g>

<g id="tbl-produk-r"><rect class="y" x="1972" y="385" width="139" height="110"/><path class="sy" d="M1972 397H2111"/>
<text class="s8 m" x="2037" y="394">Tbl_produk</text>
<text class="s65"><tspan x="1977" y="410">+Get,insert,delete Stok() Int</tspan><tspan x="1977" y="420">+get,insert,delete berat() Int</tspan><tspan x="1977" y="429">+get,insert,delete Gambar() varchar</tspan><tspan x="1977" y="438">+get,insert,delete deskripsi() Int</tspan><tspan x="1977" y="447">+get,insert,delete id_kat() Int</tspan><tspan x="1978" y="455">+ Get nm_produk() varchar</tspan><tspan x="1978" y="463">+ Get ,insert,delete harga() int</tspan><tspan x="1977" y="471">+get,insert,delete id_produk() Int</tspan></text></g>

<g id="tbl-kat-pos-r"><rect class="y" x="2147" y="380" width="120" height="80"/><path class="sy" d="M2147 396H2267"/>
<text class="s65 m" x="2205" y="390">Tbl_kat_pos</text>
<text class="s65" x="2148" y="404">+ Get,insert, delete id-kat() int</text>
<text class="s6" x="2148" y="415">+ Get,insert,delete nm_ktgri() varchar</text></g>

<g id="tbl-kat-produk-r"><rect class="y" x="1993" y="510" width="119" height="61"/><path class="sy" d="M1993 523H2112"/>
<text class="s65 m" x="2058" y="520">Tbl_kat_produk</text>
<text class="s65" x="1995" y="539">+ Get,insert, delete id-kat() int</text>
<text class="s6" x="1995" y="549">+ Get,insert,delete nm_ktgri() varchar</text></g>

<g id="tbl-pos-r"><rect class="y" x="2144" y="472" width="124" height="59"/><path class="sy" d="M2144 484H2268"/>
<text class="s65 m" x="2205" y="479">tbl_pos</text>
<text class="s65"><tspan x="2146" y="500">+ Get, update judul() varchar</tspan><tspan x="2146" y="506">+ Get,update kat() Varchar</tspan><tspan x="2146" y="514">+ Get,tgl()date</tspan><tspan x="2146" y="522">+ Get,update gambar() varchar</tspan></text></g>

<g id="login-r1"><rect class="k" x="2318" y="298" width="120" height="103"/><path class="sk" d="M2318 318H2438M2318 372H2438"/>
<text class="s65 m" x="2378" y="310">Login</text>
<text class="s65"><tspan x="2325" y="331">+ Get username()varchar</tspan><tspan x="2325" y="339">+ Get password()varchar</tspan></text>
<text class="s65"><tspan x="2325" y="382">+ vallidasi username()varchar</tspan><tspan x="2325" y="390">+ validasi password()varchar</tspan></text></g>

<g id="login-r2"><rect class="k" x="2523" y="298" width="121" height="118"/><path class="sk" d="M2523 317H2644M2523 387H2644"/>
<text class="s65 m" x="2583" y="310">Login</text>
<text class="s65"><tspan x="2532" y="336">+ Input username()varchar</tspan><tspan x="2532" y="345">+ Input password()varchar</tspan></text>
<text class="s65"><tspan x="2532" y="395">- Login</tspan><tspan x="2532" y="402">- Lupa password</tspan><tspan x="2532" y="410">- sign up</tspan></text></g>

<g id="lupa-password-l"><rect class="k" x="2278" y="418" width="120" height="86"/><path class="sk" d="M2278 433H2398M2278 479H2398"/>
<text class="s65 m" x="2338" y="428">Lupa password</text>
<text class="s65"><tspan x="2285" y="449">+ Get username()varchar</tspan><tspan x="2285" y="457">+ Update password()varchar</tspan></text>
<text class="s65"><tspan x="2282" y="487">+ vallidasi username()varchar</tspan><tspan x="2282" y="495">+ update password()varchar</tspan></text></g>

<g id="signup-l"><rect class="k" x="2348" y="514" width="120" height="90"/><path class="sk" d="M2348 534H2468M2348 587H2468"/>
<text class="s65 m" x="2408" y="526">Signup</text>
<text class="s65"><tspan x="2350" y="547">+ Insert username()varchar</tspan><tspan x="2350" y="554">+ Insert password()varchar</tspan><tspan x="2350" y="563">+ Insert nm_pelanggan()varchar</tspan><tspan x="2350" y="571">+ Insert Email()varchar</tspan></text>
<text class="s65" x="2360" y="596">- Sign up</text></g>

<g id="get-articlesbyid"><rect class="b" x="2229" y="541" width="111" height="70"/><path class="sb" d="M2229 555H2340"/>
<text class="s65 m" x="2279" y="549">Get articlesbyid</text>
<text class="s65"><tspan x="2247" y="566">+ Get judul()varchar</tspan><tspan x="2247" y="576">+ Get gambar()varchar</tspan><tspan x="2247" y="584">+ Id_pos()varchar</tspan><tspan x="2249" y="593">+ Get tanggal()date</tspan></text></g>

<g id="lupa-password-r"><rect class="k" x="2452" y="427" width="120" height="82"/><path class="sk" d="M2452 446H2572M2452 484H2572"/>
<text class="s65 m" x="2512" y="438">Lupa password</text>
<text class="s65"><tspan x="2459" y="466">+ Input Email()varchar</tspan><tspan x="2459" y="475">+ Input password()varchar</tspan></text>
<text class="s65" x="2461" y="501">- Reset</text></g>

<g id="signup-r"><rect class="k" x="2588" y="464" width="120" height="90"/><path class="sk" d="M2588 484H2708M2588 536H2708"/>
<text class="s65 m" x="2648" y="476">Signup</text>
<text class="s65"><tspan x="2593" y="499">+ Input username()varchar</tspan><tspan x="2593" y="508">+ Input password()varchar</tspan><tspan x="2593" y="517">+ Input nama lengkap()varchar</tspan><tspan x="2593" y="525">+ Input Email()varchar</tspan></text>
<text class="s65" x="2600" y="546">- Sign up</text></g>

<g id="get-articles"><rect class="b" x="2454" y="612" width="120" height="81"/><path class="sb" d="M2454 625H2574"/>
<text class="s65 m" x="2514" y="620">Get articles</text>
<text class="s65"><tspan x="2458" y="638">+ Get nm_kategori()varchar</tspan><tspan x="2458" y="646">+ Id_kategori()varchar</tspan><tspan x="2458" y="655">+ Get judul()varchar</tspan><tspan x="2458" y="665">+ Get gambar()varchar</tspan><tspan x="2458" y="673">+ Id_pos()varchar</tspan><tspan x="2459" y="681">+ Get tanggal()date</tspan></text></g>

<g id="blog"><rect class="b" x="2588" y="573" width="120" height="83"/><path class="sb" d="M2588 587H2708M2588 636H2708"/>
<text class="s65 m" x="2648" y="582">Blog</text>
<text class="s65"><tspan x="2593" y="595">+ Get nm_kategori()varchar</tspan><tspan x="2593" y="602">+ Get gambar()varchar</tspan><tspan x="2593" y="610">+ Get judul()varchar</tspan><tspan x="2593" y="616">+ Get tanggal()date</tspan><tspan x="2593" y="624">+ Id_pos()varchar</tspan><tspan x="2593" y="632">+ Id_kategori()varchar</tspan></text>
<text class="s65"><tspan x="2597" y="643">- Detail postingan</tspan><tspan x="2597" y="651">- Lihat postingan</tspan></text></g>

<g id="detail-blog"><rect class="b" x="2323" y="637" width="121" height="96"/><path class="sb" d="M2323 652H2444M2323 718H2444"/>
<text class="s65 m" x="2383" y="645">Detail-blog</text>
<text class="s65"><tspan x="2345" y="671">+ Get judul()varchar</tspan><tspan x="2345" y="680">+ Get gambar()varchar</tspan><tspan x="2345" y="688">+ Id_pos()varchar</tspan><tspan x="2345" y="696">+ Get tanggal()date</tspan></text>
<text class="s65 m" x="2383" y="726">Lihat detail blog</text></g>

<g id="menu-keranjang"><rect class="o" x="1658" y="504" width="120" height="110"/><path class="so" d="M1658 519H1778M1660 584H1776"/>
<text class="s65 m" x="1718" y="516">Menu keranjang</text>
<text class="s65"><tspan x="1669" y="542">+ get,gambar()varchar</tspan><tspan x="1669" y="550">+ get,harga()varchar</tspan><tspan x="1669" y="558">+ get,nm-produk()varchar</tspan><tspan x="1670" y="567">+ getId-produk()lnt</tspan></text>
<text class="s65"><tspan x="1667" y="591">- lanjut belanja</tspan><tspan x="1667" y="601">- Pilih cheeckout</tspan><tspan x="1667" y="609">- validasi login</tspan></text></g>

<g id="local-storege"><rect class="y" x="1872" y="559" width="114" height="49"/><path class="sy" d="M1872 571H1986"/>
<text class="s65 m" x="1932" y="569">local.storege</text>
<text class="s8"><tspan x="1889" y="585">+insert id_produk</tspan><tspan x="1889" y="600">+ insert stok</tspan></text></g>

<g id="detailproductbyid"><rect class="o" x="1695" y="622" width="121" height="90"/><path class="so" d="M1695 633H1816"/>
<text class="s65 m" x="1755" y="630">DetailproductbyId</text>
<text class="s65"><tspan x="1705" y="644">+ get,gambar()varchar</tspan><tspan x="1705" y="652">+ get,harga()varchar</tspan><tspan x="1705" y="660">+ get,nm-produk()varchar</tspan><tspan x="1706" y="669">+ get, set,stok()lnt</tspan><tspan x="1705" y="678">+ get,deskripsi()varchar</tspan><tspan x="1705" y="688">+ setId-produk()lnt</tspan></text></g>

<g id="menu-produk-r"><rect class="o" x="1824" y="622" width="120" height="109"/><path class="so" d="M1824 636H1944M1826 702H1942"/>
<text class="s65 m" x="1884" y="633">Menu produk</text>
<text class="s65"><tspan x="1834" y="649">+ get,gambar()varchar</tspan><tspan x="1834" y="657">+ get,harga()varchar</tspan><tspan x="1834" y="665">+ get,nm-produk()varchar</tspan><tspan x="1834" y="674">+ get, set,stok()lnt</tspan><tspan x="1833" y="683">+ get,deskripsi()varchar</tspan><tspan x="1833" y="693">+ setId-produk()lnt</tspan></text>
<text class="s65"><tspan x="1827" y="714">- masukan kerajang</tspan><tspan x="1827" y="722">- beli sekarang</tspan></text></g>

<g id="home"><rect class="o" x="1950" y="641" width="121" height="91"/><path class="so" d="M1950 653H2071M1952 703H2069"/>
<text class="s65 m" x="2010" y="650">Home</text>
<text class="s65"><tspan x="1958" y="662">+ get,gambar()varchar</tspan><tspan x="1958" y="669">+ get,harga()varchar</tspan><tspan x="1958" y="677">+ get,nm-produk()varchar</tspan><tspan x="1959" y="687">+ get, nm_kategori()varchar</tspan><tspan x="1959" y="695">+ get,id_kategoti()varchar</tspan></text>
<text class="s65"><tspan x="1963" y="713">- lihat produk</tspan><tspan x="1963" y="725">- lihat detail produk</tspan></text></g>

<g id="product-r"><rect class="o" x="2138" y="662" width="120" height="69"/><path class="so" d="M2138 676H2258"/>
<text class="s65 m" x="2198" y="671">Product</text>
<text class="s65"><tspan x="2148" y="687">+ get,gambar()varchar</tspan><tspan x="2148" y="695">+ get,harga()varchar</tspan><tspan x="2148" y="703">+ get,nm-produk()varchar</tspan><tspan x="2148" y="711">+ get, nm_kategori()varchar</tspan><tspan x="2148" y="720">+ get,id_kategoti()varchar</tspan></text></g>
</svg>
